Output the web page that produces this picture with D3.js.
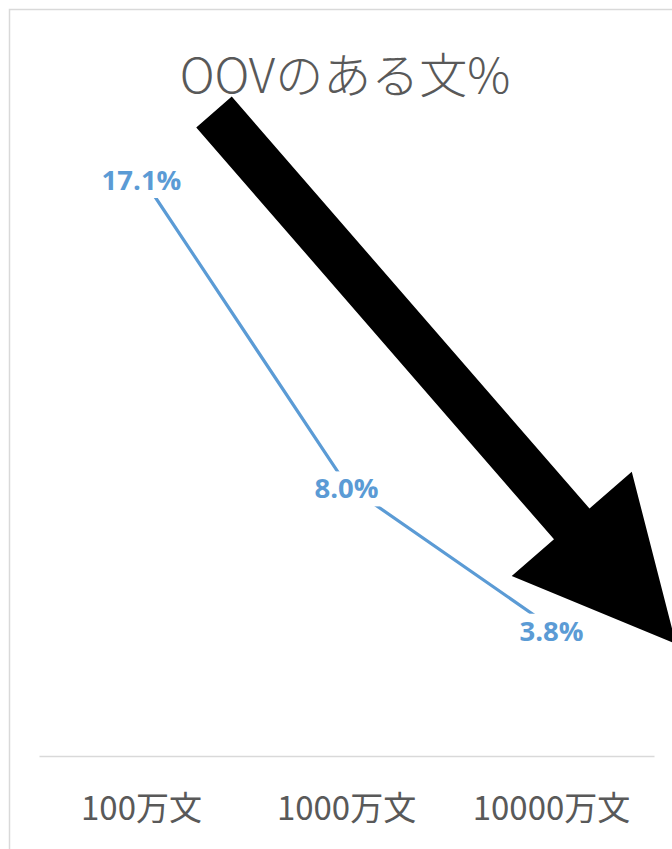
<!DOCTYPE html>
<html>
<head>
<meta charset="utf-8">
<script src="https://cdn.jsdelivr.net/npm/d3@7"></script>
<style>
  body { margin: 0; background: #fff; }
  svg { display: block; }
</style>
</head>
<body>
<div id="chart"></div>
<script>
// data
var categories = ["100万文", "1000万文", "10000万文"];
var values = [17.1, 8.0, 3.8];
var labels = ["17.1%", "8.0%", "3.8%"];
var title = "OOVのある文%";

// big annotation arrow (tail, tip, shaft width, head width, head length)
var arrowSpec = {x0: 214, y0: 112, x1: 676, y1: 644, shaft: 47, headW: 159, headL: 159};

var W = 672, H = 849;
var plot = {left: 39, right: 654, top: 146, bottom: 756};

var svg = d3.select("#chart")
  .append("svg")
  .attr("width", W)
  .attr("height", H);

// chart border (runs off the right / bottom edge)
svg.append("rect")
  .attr("x", 9.5).attr("y", 9.5)
  .attr("width", 720).attr("height", 900)
  .attr("fill", "#fff")
  .attr("stroke", "#d9d9d9")
  .attr("stroke-width", 1.5);

// title
svg.append("text")
  .attr("x", 345)
  .attr("y", 93)
  .attr("text-anchor", "middle")
  .style("font-family", "'Noto Sans CJK JP', 'Noto Sans', sans-serif")
  .style("font-weight", 300)
  .style("font-size", "48px")
  .style("fill", "#595959")
  .text(title);

var x = d3.scaleBand()
  .domain(categories)
  .range([plot.left, plot.right]);

var y = d3.scaleLinear()
  .domain([0, 18])
  .range([plot.bottom, plot.top]);

// category axis
var xAxis = svg.append("g")
  .attr("transform", "translate(0," + plot.bottom + ")")
  .call(d3.axisBottom(x).tickSize(0));
xAxis.select(".domain").attr("stroke", "#d9d9d9").attr("stroke-width", 1.5);
xAxis.selectAll("text")
  .style("font-family", "'Noto Sans CJK JP', sans-serif")
  .style("font-size", "33px")
  .style("fill", "#595959")
  .attr("dy", "0.35em")
  .attr("y", 52);

// the line
var pts = categories.map(function(c, i) {
  return {c: c, v: values[i], label: labels[i]};
});
var line = d3.line()
  .x(function(d) { return x(d.c) + x.bandwidth() / 2; })
  .y(function(d) { return y(d.v); });

svg.append("path")
  .datum(pts)
  .attr("d", line)
  .attr("fill", "none")
  .attr("stroke", "#5b9bd5")
  .attr("stroke-width", 3.2);

// data labels, centred on the points with a white box behind them
var lab = svg.append("g").selectAll("g")
  .data(pts)
  .enter()
  .append("g");

var labText = lab.append("text")
  .attr("x", function(d) { return x(d.c) + x.bandwidth() / 2; })
  .attr("y", function(d) { return y(d.v) + 3; })
  .attr("text-anchor", "middle")
  .attr("dominant-baseline", "central")
  .style("font-family", "'Open Sans', sans-serif")
  .style("font-weight", "bold")
  .style("font-size", "27.5px")
  .style("fill", "#5b9bd5")
  .text(function(d) { return d.label; });

labText.each(function() {
  var b = this.getBBox();
  d3.select(this.parentNode).insert("rect", "text")
    .attr("x", b.x - 4)
    .attr("y", b.y + 2)
    .attr("width", b.width + 8)
    .attr("height", b.height - 2)
    .attr("fill", "#fff");
});

// arrow polygon built from its spec
function arrowPoints(a) {
  var dx = a.x1 - a.x0, dy = a.y1 - a.y0;
  var len = Math.sqrt(dx * dx + dy * dy);
  var ux = dx / len, uy = dy / len;
  var nx = uy, ny = -ux;
  var base = len - a.headL;
  function p(t, s) { return [a.x0 + ux * t + nx * s, a.y0 + uy * t + ny * s]; }
  return [
    p(0, a.shaft / 2), p(base, a.shaft / 2), p(base, a.headW / 2),
    p(len, 0),
    p(base, -a.headW / 2), p(base, -a.shaft / 2), p(0, -a.shaft / 2)
  ];
}

svg.append("polygon")
  .attr("points", arrowPoints(arrowSpec).map(function(q) { return q.join(","); }).join(" "))
  .attr("fill", "#000");
</script>
</body>
</html>
